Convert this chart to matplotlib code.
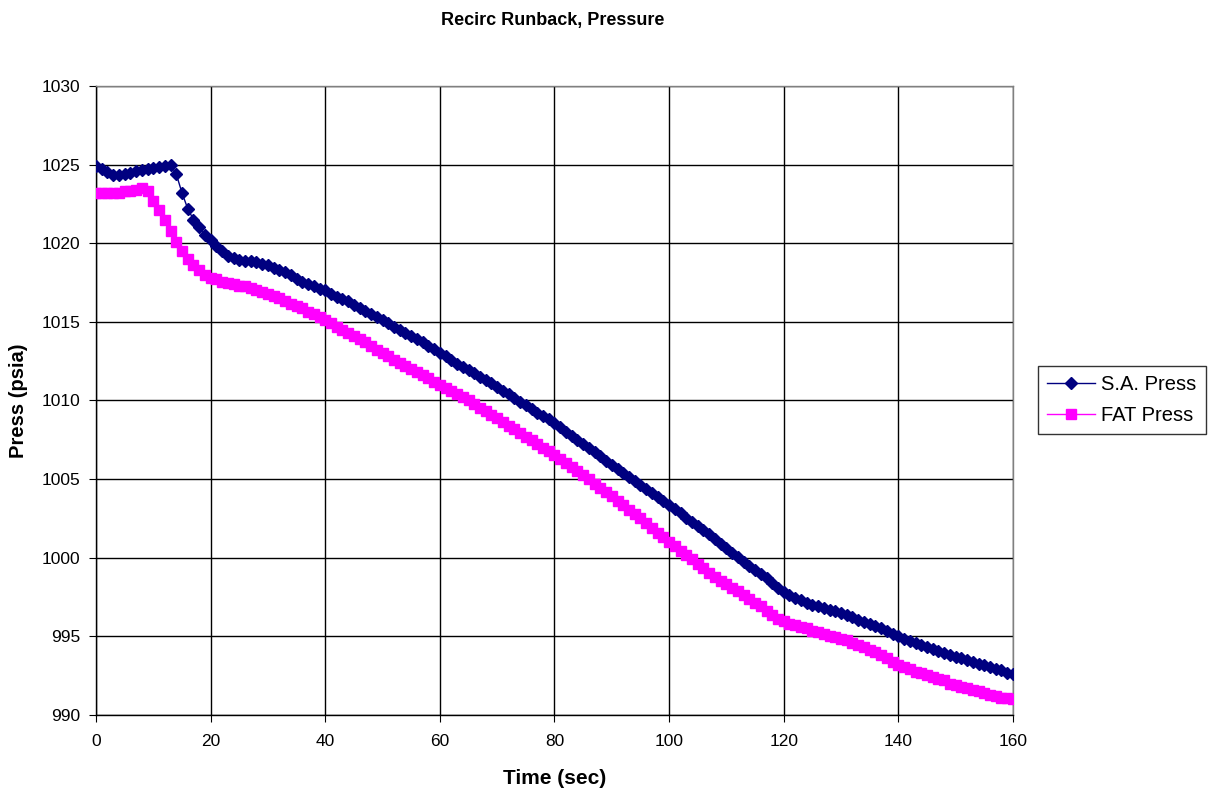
import numpy as np
import matplotlib.pyplot as plt

plt.rcParams['font.family'] = ['Liberation Sans', 'DejaVu Sans']

# time (sec), one sample per second
t = np.arange(0, 161)

# S.A. Press (psia)
sa_press = [
    1024.9, 1024.7, 1024.5, 1024.35, 1024.35, 1024.4, 1024.45, 1024.6, 1024.65, 1024.75,
    1024.8, 1024.85, 1024.9, 1025.0, 1024.4, 1023.2, 1022.2, 1021.5, 1021.0, 1020.5,
    1020.2, 1019.8, 1019.5, 1019.2, 1019.05, 1018.95, 1018.9, 1018.85, 1018.8, 1018.7,
    1018.6, 1018.45, 1018.3, 1018.15, 1017.95, 1017.75, 1017.55, 1017.4, 1017.25, 1017.1,
    1017.0, 1016.8, 1016.6, 1016.45, 1016.3, 1016.1, 1015.9, 1015.7, 1015.5, 1015.3,
    1015.1, 1014.9, 1014.7, 1014.5, 1014.3, 1014.1, 1013.9, 1013.7, 1013.45, 1013.25,
    1013.0, 1012.8, 1012.6, 1012.35, 1012.15, 1011.95, 1011.75, 1011.5, 1011.3, 1011.1,
    1010.85, 1010.6, 1010.4, 1010.15, 1009.9, 1009.7, 1009.45, 1009.2, 1009.0, 1008.8,
    1008.55, 1008.3, 1008.0, 1007.75, 1007.5, 1007.25, 1007.0, 1006.7, 1006.45, 1006.15,
    1005.9, 1005.65, 1005.4, 1005.15, 1004.9, 1004.6, 1004.35, 1004.1, 1003.85, 1003.6,
    1003.35, 1003.1, 1002.85, 1002.55, 1002.3, 1002.0, 1001.75, 1001.5, 1001.2, 1000.9,
    1000.6, 1000.3, 1000.05, 999.75, 999.5, 999.2, 998.95, 998.7, 998.4, 998.1,
    997.85, 997.65, 997.45, 997.3, 997.15, 997.0, 996.9, 996.8, 996.7, 996.6,
    996.5, 996.35, 996.2, 996.05, 995.9, 995.8, 995.65, 995.5, 995.35, 995.15,
    995.0, 994.85, 994.7, 994.6, 994.45, 994.35, 994.2, 994.05, 993.95, 993.8,
    993.7, 993.6, 993.5, 993.35, 993.25, 993.15, 993.05, 992.95, 992.85, 992.7,
    992.6,
]

# FAT Press (psia)
fat_press = [
    1023.2, 1023.2, 1023.2, 1023.2, 1023.2, 1023.3, 1023.3, 1023.4, 1023.5, 1023.3,
    1022.7, 1022.1, 1021.5, 1020.8, 1020.1, 1019.5, 1019.0, 1018.6, 1018.3, 1018.0,
    1017.8, 1017.7, 1017.55, 1017.45, 1017.4, 1017.3, 1017.25, 1017.15, 1017.05, 1016.9,
    1016.75, 1016.65, 1016.5, 1016.35, 1016.15, 1016.0, 1015.85, 1015.65, 1015.5, 1015.3,
    1015.1, 1014.9, 1014.7, 1014.5, 1014.3, 1014.1, 1013.9, 1013.7, 1013.45, 1013.2,
    1013.0, 1012.8, 1012.6, 1012.4, 1012.2, 1012.0, 1011.8, 1011.6, 1011.4, 1011.2,
    1011.0, 1010.8, 1010.6, 1010.4, 1010.2, 1010.0, 1009.8, 1009.55, 1009.35, 1009.1,
    1008.9, 1008.65, 1008.4, 1008.2, 1007.95, 1007.7, 1007.5, 1007.25, 1007.0, 1006.8,
    1006.55, 1006.3, 1006.0, 1005.75, 1005.5, 1005.25, 1005.0, 1004.7, 1004.45, 1004.15,
    1003.9, 1003.6, 1003.35, 1003.05, 1002.8, 1002.5, 1002.2, 1001.9, 1001.6, 1001.3,
    1001.0, 1000.75, 1000.45, 1000.2, 999.9, 999.6, 999.35, 999.05, 998.8, 998.55,
    998.3, 998.1, 997.9, 997.65, 997.4, 997.15, 996.9, 996.6, 996.35, 996.1,
    995.95, 995.8, 995.7, 995.6, 995.5, 995.35, 995.25, 995.15, 995.05, 994.95,
    994.85, 994.75, 994.6, 994.45, 994.3, 994.15, 994.0, 993.8, 993.6, 993.4,
    993.2, 993.05, 992.9, 992.75, 992.65, 992.55, 992.4, 992.3, 992.2, 992.0,
    991.9, 991.8, 991.7, 991.6, 991.5, 991.4, 991.3, 991.2, 991.1, 991.05,
    991.0,
]

fig = plt.figure(figsize=(12.14, 7.96), dpi=100)
ax = fig.add_axes([0.0791, 0.1018, 0.7553, 0.7902])

ax.plot(t, sa_press, color='#000080', marker='D', markersize=6, linewidth=1,
        label='S.A. Press', zorder=4)
ax.plot(t, fat_press, color='#FF00FF', marker='s', markersize=6.5, linewidth=1,
        label='FAT Press', zorder=3)

ax.set_xlim(0, 160)
ax.set_ylim(990, 1030)
ax.set_xticks(np.arange(0, 161, 20))
ax.set_yticks(np.arange(990, 1031, 5))
ax.grid(True, color='black', linewidth=1)
ax.set_axisbelow(True)
for s in ax.spines.values():
    s.set_color('black')
    s.set_linewidth(1)
ax.spines['top'].set_color('#808080')
ax.spines['right'].set_color('#808080')
ax.tick_params(axis='both', direction='out', length=5, color='black',
               labelsize=12.5)
ax.tick_params(axis='x', pad=9)
ax.tick_params(axis='y', pad=6)

ax.set_xlabel('Time (sec)', fontsize=15, fontweight='bold', labelpad=14)
ax.set_ylabel('Press (psia)', fontsize=14.5, fontweight='bold', labelpad=10)
fig.suptitle('Recirc Runback, Pressure', fontsize=13, fontweight='bold',
             x=0.455, y=0.985)

leg = fig.legend(loc='center left', bbox_to_anchor=(0.855, 0.497),
                 fontsize=14.5, frameon=True, fancybox=False, edgecolor='black',
                 handlelength=2.4, handletextpad=0.3, borderpad=0.45,
                 labelspacing=0.6, borderaxespad=0)
leg.get_frame().set_linewidth(1)

fig.savefig('out.png', dpi=100)
